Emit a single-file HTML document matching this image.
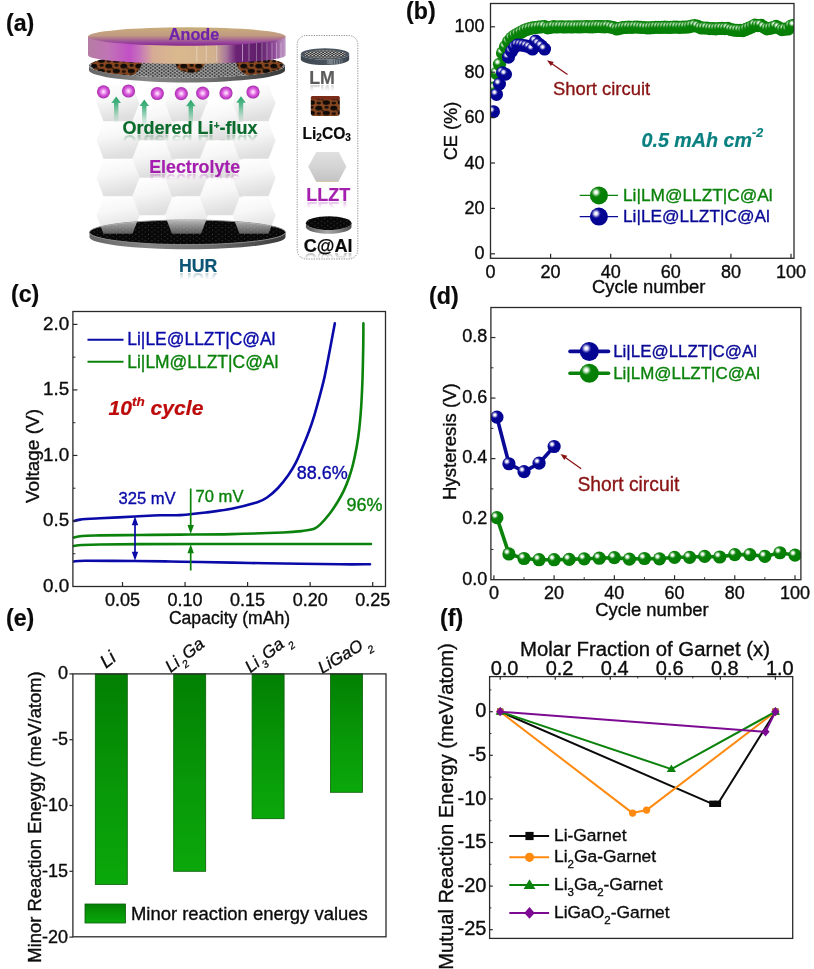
<!DOCTYPE html>
<html lang="en"><head><meta charset="utf-8"><title>Figure</title>
<style>
html,body{margin:0;padding:0;background:#fff;}
body{width:814px;height:969px;overflow:hidden;font-family:'Liberation Sans', sans-serif;}
svg{display:block;font-family:'Liberation Sans', sans-serif;will-change:transform;}
svg text{white-space:pre;}
</style></head><body>
<svg width="814" height="969" viewBox="0 0 814 969">
<rect width="814" height="969" fill="#ffffff"/>
<defs>
<radialGradient id="gball" cx="0.34" cy="0.33" r="0.9" fx="0.34" fy="0.33">
  <stop offset="0" stop-color="#ffffff"/><stop offset="0.06" stop-color="#ffffff"/><stop offset="0.15" stop-color="#a8d8a8"/>
  <stop offset="0.23" stop-color="#3a9a3a"/><stop offset="0.30" stop-color="#078207"/><stop offset="1" stop-color="#027a02"/>
</radialGradient>
<radialGradient id="bball" cx="0.34" cy="0.33" r="0.9" fx="0.34" fy="0.33">
  <stop offset="0" stop-color="#ffffff"/><stop offset="0.06" stop-color="#ffffff"/><stop offset="0.15" stop-color="#a6a6dc"/>
  <stop offset="0.23" stop-color="#3838ac"/><stop offset="0.30" stop-color="#060696"/><stop offset="1" stop-color="#02028e"/>
</radialGradient>

<linearGradient id="hexg" x1="0" y1="0" x2="0.25" y2="1"><stop offset="0" stop-color="#ffffff"/><stop offset="0.45" stop-color="#f6f6f6"/><stop offset="1" stop-color="#dcdcdc"/></linearGradient>
<linearGradient id="anTop" x1="0" y1="0" x2="0" y2="1"><stop offset="0" stop-color="#c9ad7a"/><stop offset="0.45" stop-color="#c09a82"/><stop offset="0.8" stop-color="#9a4a9c"/><stop offset="1" stop-color="#86268f"/></linearGradient>
<linearGradient id="anSide" x1="0" y1="0" x2="1" y2="0">
 <stop offset="0" stop-color="#b57ca4"/><stop offset="0.10" stop-color="#c074b4"/><stop offset="0.21" stop-color="#c250c6"/><stop offset="0.26" stop-color="#c672bc"/>
 <stop offset="0.33" stop-color="#d6ac94"/><stop offset="0.45" stop-color="#dab98e"/><stop offset="0.64" stop-color="#d2b28e"/><stop offset="0.70" stop-color="#a8769c"/>
 <stop offset="0.75" stop-color="#6c2276"/><stop offset="0.87" stop-color="#60206a"/><stop offset="0.94" stop-color="#8c4696"/><stop offset="1" stop-color="#c29cc6"/></linearGradient>
<linearGradient id="rimG" x1="0" y1="0" x2="1" y2="0"><stop offset="0" stop-color="#666666"/><stop offset="0.3" stop-color="#868686"/><stop offset="0.6" stop-color="#707070"/><stop offset="1" stop-color="#3a3a3a"/></linearGradient>
<radialGradient id="liion" cx="0.5" cy="0.5" r="0.5" fx="0.5" fy="0.5"><stop offset="0" stop-color="#fff4ff"/><stop offset="0.22" stop-color="#f6b6f4"/><stop offset="0.6" stop-color="#d552d8"/><stop offset="0.9" stop-color="#b436bb"/><stop offset="1" stop-color="#9c3aa2"/></radialGradient>
<linearGradient id="garrow" x1="0" y1="0" x2="0" y2="1"><stop offset="0" stop-color="#27a368"/><stop offset="0.28" stop-color="#3aad78" stop-opacity="0.9"/><stop offset="0.6" stop-color="#5cbb8e" stop-opacity="0.6"/><stop offset="1" stop-color="#8fd0b0" stop-opacity="0.08"/></linearGradient>
<linearGradient id="fadeG" x1="0" y1="0" x2="0" y2="1"><stop offset="0" stop-color="#fff" stop-opacity="0"/><stop offset="0.55" stop-color="#fff" stop-opacity="0"/><stop offset="1" stop-color="#fff" stop-opacity="1"/></linearGradient>
<mask id="fadeMask" maskUnits="userSpaceOnUse" x="0" y="0" width="420" height="300"><rect x="0" y="0" width="420" height="300" fill="#fff"/></mask>
<pattern id="mesh" width="4.4" height="3.2" patternUnits="userSpaceOnUse"><rect width="4.4" height="3.2" fill="#9a9a9a"/><ellipse cx="1.1" cy="0.8" rx="1.35" ry="0.95" fill="#121212" stroke="#e8e8e8" stroke-width="0.35"/><ellipse cx="3.3" cy="2.4" rx="1.35" ry="0.95" fill="#121212" stroke="#e8e8e8" stroke-width="0.35"/></pattern>
<pattern id="cdots" width="6.4" height="4.4" patternUnits="userSpaceOnUse"><rect width="6.4" height="4.4" fill="#080808"/><circle cx="1.4" cy="1.1" r="0.42" fill="#8c8c8c"/><circle cx="4.6" cy="3.3" r="0.42" fill="#8c8c8c"/></pattern>
<pattern id="leo" width="15" height="10.5" patternUnits="userSpaceOnUse"><rect width="15" height="10.5" fill="#87461f"/><ellipse cx="3.8" cy="3" rx="3.5" ry="2.4" fill="#120c08"/><ellipse cx="11.3" cy="8" rx="3.6" ry="2.3" fill="#120c08"/><ellipse cx="11.6" cy="2.2" rx="2.3" ry="1.5" fill="#1c120c"/><ellipse cx="3.8" cy="8.6" rx="2.4" ry="1.4" fill="#1c120c"/><ellipse cx="7.6" cy="5.4" rx="1.3" ry="0.9" fill="#2a1a10"/></pattern>
<linearGradient id="hexOv" gradientUnits="userSpaceOnUse" x1="0" y1="219" x2="0" y2="234"><stop offset="0" stop-color="#e2e2e2" stop-opacity="0.85"/><stop offset="1" stop-color="#bdbdbd" stop-opacity="0.45"/></linearGradient><linearGradient id="rf1g" gradientUnits="userSpaceOnUse" x1="0" y1="134.8" x2="0" y2="141.5"><stop offset="0" stop-color="#fff" stop-opacity="0.3"/><stop offset="1" stop-color="#fff" stop-opacity="0"/></linearGradient><mask id="rf1" maskUnits="userSpaceOnUse" x="0" y="134.3" width="420" height="18.0"><rect x="0" y="134.3" width="420" height="18.0" fill="url(#rf1g)"/></mask><linearGradient id="rf2g" gradientUnits="userSpaceOnUse" x1="0" y1="173.5" x2="0" y2="180.1"><stop offset="0" stop-color="#fff" stop-opacity="0.3"/><stop offset="1" stop-color="#fff" stop-opacity="0"/></linearGradient><mask id="rf2" maskUnits="userSpaceOnUse" x="0" y="173.0" width="420" height="17.8"><rect x="0" y="173.0" width="420" height="17.8" fill="url(#rf2g)"/></mask><linearGradient id="rf3g" gradientUnits="userSpaceOnUse" x1="0" y1="272.6" x2="0" y2="279.2"><stop offset="0" stop-color="#fff" stop-opacity="0.3"/><stop offset="1" stop-color="#fff" stop-opacity="0"/></linearGradient><mask id="rf3" maskUnits="userSpaceOnUse" x="0" y="272.1" width="420" height="17.7"><rect x="0" y="272.1" width="420" height="17.7" fill="url(#rf3g)"/></mask><linearGradient id="lmRim" x1="0" y1="0" x2="1" y2="0"><stop offset="0" stop-color="#3c4650"/><stop offset="0.5" stop-color="#48525c"/><stop offset="0.62" stop-color="#59636c"/><stop offset="1" stop-color="#39424c"/></linearGradient><pattern id="mesh2" width="3.6" height="2.4" patternUnits="userSpaceOnUse"><rect width="3.6" height="2.4" fill="#e4e4e4"/><ellipse cx="0.9" cy="0.6" rx="1.1" ry="0.75" fill="#1a1a1a"/><ellipse cx="2.7" cy="1.8" rx="1.1" ry="0.75" fill="#1a1a1a"/></pattern><linearGradient id="rf4g" gradientUnits="userSpaceOnUse" x1="0" y1="84.7" x2="0" y2="91.3"><stop offset="0" stop-color="#fff" stop-opacity="0.3"/><stop offset="1" stop-color="#fff" stop-opacity="0"/></linearGradient><mask id="rf4" maskUnits="userSpaceOnUse" x="0" y="84.2" width="420" height="17.8"><rect x="0" y="84.2" width="420" height="17.8" fill="url(#rf4g)"/></mask><linearGradient id="hexL" x1="0" y1="0" x2="0" y2="1"><stop offset="0" stop-color="#e0e0e0"/><stop offset="0.5" stop-color="#d4d4d4"/><stop offset="0.95" stop-color="#c4c4c4"/><stop offset="1" stop-color="#dccb9c"/></linearGradient><linearGradient id="rf5g" gradientUnits="userSpaceOnUse" x1="0" y1="201.7" x2="0" y2="208.4"><stop offset="0" stop-color="#fff" stop-opacity="0.3"/><stop offset="1" stop-color="#fff" stop-opacity="0"/></linearGradient><mask id="rf5" maskUnits="userSpaceOnUse" x="0" y="201.2" width="420" height="18.0"><rect x="0" y="201.2" width="420" height="18.0" fill="url(#rf5g)"/></mask><linearGradient id="caRim" x1="0" y1="0" x2="1" y2="0"><stop offset="0" stop-color="#555"/><stop offset="0.45" stop-color="#a8a8a8"/><stop offset="0.7" stop-color="#8a8a8a"/><stop offset="1" stop-color="#4a4a4a"/></linearGradient><linearGradient id="rf6g" gradientUnits="userSpaceOnUse" x1="0" y1="252.5" x2="0" y2="259.2"><stop offset="0" stop-color="#fff" stop-opacity="0.3"/><stop offset="1" stop-color="#fff" stop-opacity="0"/></linearGradient><mask id="rf6" maskUnits="userSpaceOnUse" x="0" y="252.0" width="420" height="18.1"><rect x="0" y="252.0" width="420" height="18.1" fill="url(#rf6g)"/></mask><linearGradient id="gbar" x1="0" y1="0" x2="0" y2="1"><stop offset="0" stop-color="#028002"/><stop offset="0.55" stop-color="#089808"/><stop offset="1" stop-color="#0aa80a"/></linearGradient></defs>
<polygon points="96.5,103.0 103.5,84.8 132.5,84.8 139.5,103.0 132.5,121.2 103.5,121.2" fill="url(#hexg)" opacity="0.93"/>
<polygon points="96.5,140.5 103.5,122.3 132.5,122.3 139.5,140.5 132.5,158.7 103.5,158.7" fill="url(#hexg)" opacity="0.93"/>
<polygon points="96.5,178.0 103.5,159.8 132.5,159.8 139.5,178.0 132.5,196.2 103.5,196.2" fill="url(#hexg)" opacity="0.93"/>
<polygon points="96.5,215.5 103.5,197.3 132.5,197.3 139.5,215.5 132.5,233.7 103.5,233.7" fill="url(#hexg)" opacity="0.93"/>
<polygon points="132.5,122.0 139.5,103.8 168.5,103.8 175.5,122.0 168.5,140.2 139.5,140.2" fill="url(#hexg)" opacity="0.93"/>
<polygon points="132.5,159.5 139.5,141.3 168.5,141.3 175.5,159.5 168.5,177.7 139.5,177.7" fill="url(#hexg)" opacity="0.93"/>
<polygon points="132.5,197.0 139.5,178.8 168.5,178.8 175.5,197.0 168.5,215.2 139.5,215.2" fill="url(#hexg)" opacity="0.93"/>
<polygon points="165.0,103.0 172.0,84.8 201.0,84.8 208.0,103.0 201.0,121.2 172.0,121.2" fill="url(#hexg)" opacity="0.93"/>
<polygon points="165.0,140.5 172.0,122.3 201.0,122.3 208.0,140.5 201.0,158.7 172.0,158.7" fill="url(#hexg)" opacity="0.93"/>
<polygon points="165.0,178.0 172.0,159.8 201.0,159.8 208.0,178.0 201.0,196.2 172.0,196.2" fill="url(#hexg)" opacity="0.93"/>
<polygon points="165.0,215.5 172.0,197.3 201.0,197.3 208.0,215.5 201.0,233.7 172.0,233.7" fill="url(#hexg)" opacity="0.93"/>
<polygon points="199.5,122.0 206.5,103.8 235.5,103.8 242.5,122.0 235.5,140.2 206.5,140.2" fill="url(#hexg)" opacity="0.93"/>
<polygon points="199.5,159.5 206.5,141.3 235.5,141.3 242.5,159.5 235.5,177.7 206.5,177.7" fill="url(#hexg)" opacity="0.93"/>
<polygon points="199.5,197.0 206.5,178.8 235.5,178.8 242.5,197.0 235.5,215.2 206.5,215.2" fill="url(#hexg)" opacity="0.93"/>
<polygon points="232.5,103.0 239.5,84.8 268.5,84.8 275.5,103.0 268.5,121.2 239.5,121.2" fill="url(#hexg)" opacity="0.93"/>
<polygon points="232.5,140.5 239.5,122.3 268.5,122.3 275.5,140.5 268.5,158.7 239.5,158.7" fill="url(#hexg)" opacity="0.93"/>
<polygon points="232.5,178.0 239.5,159.8 268.5,159.8 275.5,178.0 268.5,196.2 239.5,196.2" fill="url(#hexg)" opacity="0.93"/>
<polygon points="232.5,215.5 239.5,197.3 268.5,197.3 275.5,215.5 268.5,233.7 239.5,233.7" fill="url(#hexg)" opacity="0.93"/>
<path d="M89.5,232.3 A98,12.3 0 0 0 285.5,232.3 L285.5,237 A98,12.3 0 0 1 89.5,237 Z" fill="url(#rimG)"/>
<ellipse cx="187.5" cy="232.3" rx="98" ry="12.3" fill="url(#cdots)"/>
<ellipse cx="187.5" cy="232.3" rx="98" ry="12.3" fill="none" stroke="#8c8c8c" stroke-width="0.9"/>
<clipPath id="clipDisc"><ellipse cx="187.5" cy="232.3" rx="98" ry="12.3"/></clipPath>
<g clip-path="url(#clipDisc)">
<polygon points="96.5,215.5 103.5,197.3 132.5,197.3 139.5,215.5 132.5,233.7 103.5,233.7" fill="url(#hexOv)" opacity="1"/>
<polygon points="165.0,215.5 172.0,197.3 201.0,197.3 208.0,215.5 201.0,233.7 172.0,233.7" fill="url(#hexOv)" opacity="1"/>
<polygon points="232.5,215.5 239.5,197.3 268.5,197.3 275.5,215.5 268.5,233.7 239.5,233.7" fill="url(#hexOv)" opacity="1"/>
</g>
<path d="M89,65.6 A98,12.2 0 0 0 285,65.6 L285,70.2 A98,12.2 0 0 1 89,70.2 Z" fill="url(#rimG)"/>
<ellipse cx="187" cy="65.6" rx="98" ry="12.2" fill="url(#mesh)"/>
<clipPath id="clipMesh"><ellipse cx="187" cy="65.6" rx="98" ry="12.2"/></clipPath>
<g clip-path="url(#clipMesh)">
<path d="M91,66 C93,58 100,54 112,53 L141,53 C144,60 142,69.5 134,74.5 C126,78.5 110,77.5 100,75.5 Z" fill="url(#leo)"/>
<path d="M176,53 L206,53 C208,60 204,68.5 197,72 C189,74 180,71.5 177,67.5 C174,62 174,57 176,53 Z" fill="url(#leo)"/>
<path d="M238,53 L276,54 C282,58 284,62 282,67.5 C274,73.5 262,77 250,76 C240,73.5 236,66 236,60 Z" fill="url(#leo)"/>
</g>
<path d="M88,36.5 L88,55.2 A98.8,8.6 0 0 0 285.6,55.2 L285.6,36.5 Z" fill="url(#anSide)"/>
<line x1="196.80" y1="42.50" x2="196.80" y2="61.50" stroke="#ffffff" stroke-width="0.7" opacity="0.55"/>
<line x1="206.30" y1="42.50" x2="206.30" y2="61.50" stroke="#ffffff" stroke-width="0.7" opacity="0.5"/>
<line x1="216.70" y1="42.50" x2="216.70" y2="61.50" stroke="#ffffff" stroke-width="0.7" opacity="0.5"/>
<line x1="242.50" y1="42.50" x2="242.50" y2="61.50" stroke="#ffffff" stroke-width="0.7" opacity="0.7"/>
<line x1="249.00" y1="42.50" x2="249.00" y2="61.50" stroke="#ffffff" stroke-width="0.7" opacity="0.5"/>
<line x1="256.50" y1="42.50" x2="256.50" y2="61.50" stroke="#ffffff" stroke-width="0.7" opacity="0.45"/>
<line x1="262.00" y1="42.50" x2="262.00" y2="61.50" stroke="#ffffff" stroke-width="0.7" opacity="0.45"/>
<line x1="267.00" y1="42.50" x2="267.00" y2="61.50" stroke="#ffffff" stroke-width="0.7" opacity="0.45"/>
<line x1="272.00" y1="42.50" x2="272.00" y2="61.50" stroke="#ffffff" stroke-width="0.7" opacity="0.5"/>
<line x1="276.50" y1="42.50" x2="276.50" y2="61.50" stroke="#ffffff" stroke-width="0.7" opacity="0.5"/>
<line x1="281.00" y1="42.50" x2="281.00" y2="61.50" stroke="#ffffff" stroke-width="0.7" opacity="0.55"/>
<ellipse cx="186.8" cy="36.5" rx="98.8" ry="9.3" fill="url(#anTop)"/>
<text x="194.0" y="39.8" font-size="16.2" fill="#6f22ac" stroke="#6f22ac" stroke-width="0.2" text-anchor="middle" font-weight="bold" font-style="normal" >Anode</text>
<circle cx="103.5" cy="91.8" r="6.6" fill="url(#liion)"/>
<circle cx="128.5" cy="91" r="6.6" fill="url(#liion)"/>
<circle cx="157.3" cy="93.5" r="6.6" fill="url(#liion)"/>
<circle cx="181.3" cy="93.6" r="6.6" fill="url(#liion)"/>
<circle cx="202.7" cy="93.2" r="6.6" fill="url(#liion)"/>
<circle cx="226" cy="93" r="6.6" fill="url(#liion)"/>
<circle cx="253" cy="92" r="6.6" fill="url(#liion)"/>
<path d="M114.0,122.5 L114.0,103.0 L111.4,103.0 L116.2,96.5 L121.0,103.0 L118.4,103.0 L118.4,122.5 Z" fill="url(#garrow)"/>
<path d="M142.10000000000002,125.6 L142.10000000000002,106.1 L139.5,106.1 L144.3,99.6 L149.10000000000002,106.1 L146.5,106.1 L146.5,125.6 Z" fill="url(#garrow)"/>
<path d="M188.60000000000002,125.8 L188.60000000000002,106.3 L186.0,106.3 L190.8,99.8 L195.60000000000002,106.3 L193.0,106.3 L193.0,125.8 Z" fill="url(#garrow)"/>
<path d="M238.8,122.2 L238.8,102.7 L236.2,102.7 L241,96.2 L245.8,102.7 L243.2,102.7 L243.2,122.2 Z" fill="url(#garrow)"/>
<text x="122.6" y="134.3" font-size="18.0" fill="#0a6a2c" stroke="#0a6a2c" stroke-width="0.2" text-anchor="start" font-weight="bold" font-style="normal" id="rf1t">Ordered Li<tspan font-size="10" dy="-5">+</tspan><tspan dy="5">-flux</tspan></text>
<g mask="url(#rf1)"><use href="#rf1t" transform="translate(0,269.6) scale(1,-1)"/></g>
<text x="149.2" y="173.0" font-size="17.8" fill="#a51fae" stroke="#a51fae" stroke-width="0.2" text-anchor="start" font-weight="bold" font-style="normal" id="rf2t">Electrolyte</text>
<g mask="url(#rf2)"><use href="#rf2t" transform="translate(0,347.0) scale(1,-1)"/></g>
<text x="179.0" y="272.1" font-size="17.7" fill="#0d5574" stroke="#0d5574" stroke-width="0.2" text-anchor="start" font-weight="bold" font-style="normal" id="rf3t">HUR</text>
<g mask="url(#rf3)"><use href="#rf3t" transform="translate(0,545.2) scale(1,-1)"/></g>
<rect x="297.2" y="35.5" width="60.6" height="223.5" rx="9" ry="9" fill="#fff" stroke="#666" stroke-width="0.7" stroke-dasharray="1.3,1.2"/>
<path d="M300.8,54 A24.2,5.7 0 0 0 349.2,54 L349.2,59.4 A24.2,5.7 0 0 1 300.8,59.4 Z" fill="url(#lmRim)"/>
<line x1="328.00" y1="59.50" x2="328.00" y2="64.20" stroke="#ffffff" stroke-width="0.6" opacity="0.55"/>
<line x1="330.00" y1="59.50" x2="330.00" y2="64.20" stroke="#ffffff" stroke-width="0.6" opacity="0.7"/>
<line x1="332.00" y1="59.50" x2="332.00" y2="64.20" stroke="#ffffff" stroke-width="0.6" opacity="0.6"/>
<line x1="334.50" y1="59.50" x2="334.50" y2="64.20" stroke="#ffffff" stroke-width="0.6" opacity="0.5"/>
<line x1="337.00" y1="59.50" x2="337.00" y2="64.20" stroke="#ffffff" stroke-width="0.6" opacity="0.55"/>
<line x1="339.50" y1="59.50" x2="339.50" y2="64.20" stroke="#ffffff" stroke-width="0.6" opacity="0.45"/>
<line x1="342.00" y1="59.50" x2="342.00" y2="64.20" stroke="#ffffff" stroke-width="0.6" opacity="0.4"/>
<ellipse cx="325" cy="54" rx="24.2" ry="5.7" fill="#4a545e"/>
<ellipse cx="325" cy="54.2" rx="20.8" ry="4.3" fill="url(#mesh2)"/>
<text x="309.2" y="84.2" font-size="17.8" fill="#5c5c5c" stroke="#5c5c5c" stroke-width="0.2" text-anchor="start" font-weight="bold" font-style="normal" id="rf4t">LM</text>
<g mask="url(#rf4)"><use href="#rf4t" transform="translate(0,169.4) scale(1,-1)"/></g>
<rect x="310.8" y="96" width="29" height="20" rx="3" ry="3" fill="url(#leo)"/>
<rect x="310.8" y="96" width="29" height="3.6" rx="1.8" fill="#7a2c18"/>
<text x="302.5" y="138.5" font-size="15.6" fill="#0a0a0a" stroke="#0a0a0a" stroke-width="0.2" text-anchor="start" font-weight="bold" font-style="normal" >Li<tspan font-size="10" dy="2.5">2</tspan><tspan dy="-2.5">CO</tspan><tspan font-size="10" dy="2.5">3</tspan></text>
<polygon points="308.2,166.8 316.3,152 338.8,152 346.4,166.8 338.2,182 316.3,182" fill="url(#hexL)"/>
<text x="306.2" y="201.2" font-size="18.0" fill="#a51fae" stroke="#a51fae" stroke-width="0.2" text-anchor="start" font-weight="bold" font-style="normal" id="rf5t">LLZT</text>
<g mask="url(#rf5)"><use href="#rf5t" transform="translate(0,403.4) scale(1,-1)"/></g>
<path d="M305.9,223.2 A22.8,6.9 0 0 0 351.5,223.2 L351.5,226.9 A22.8,6.9 0 0 1 305.9,226.9 Z" fill="url(#caRim)"/>
<ellipse cx="328.7" cy="223.2" rx="22.8" ry="6.9" fill="url(#cdots)"/>
<text x="303.8" y="252.0" font-size="18.1" fill="#0a0a0a" stroke="#0a0a0a" stroke-width="0.2" text-anchor="start" font-weight="bold" font-style="normal" id="rf6t">C@Al</text>
<g mask="url(#rf6)"><use href="#rf6t" transform="translate(0,505.0) scale(1,-1)"/></g>
<clipPath id="clipb"><rect x="490.5" y="3.5" width="303.5" height="254.8"/></clipPath>
<g clip-path="url(#clipb)">
<polyline points="493.5,88.1 496.5,73.3 499.5,64.3 502.5,52.9 505.5,46.8 508.5,41.8 511.5,38.2 514.5,35.9 517.5,34.1 520.5,32.5 523.6,30.9 526.6,29.5 529.6,28.6 532.6,27.9 535.6,27.5 538.6,27.0 541.6,26.8 544.6,26.6 547.6,27.8 550.6,27.4 553.6,26.7 556.6,27.0 559.6,26.8 562.6,26.8 565.6,27.0 568.6,26.7 571.6,27.0 574.6,26.7 577.6,26.9 580.6,26.9 583.7,26.7 586.7,26.5 589.7,26.9 592.7,26.9 595.7,26.7 598.7,26.5 601.7,26.7 604.7,26.8 607.7,26.5 610.7,27.0 613.7,27.6 616.7,29.0 619.7,28.4 622.7,27.7 625.7,27.5 628.7,27.1 631.7,27.3 634.7,27.0 637.7,27.1 640.8,27.4 643.8,27.5 646.8,27.9 649.8,27.8 652.8,27.6 655.8,27.3 658.8,27.3 661.8,27.4 664.8,27.2 667.8,27.3 670.8,27.4 673.8,27.1 676.8,27.1 679.8,27.3 682.8,27.1 685.8,27.1 688.8,26.8 691.8,26.1 694.8,25.6 697.8,26.3 700.9,27.9 703.9,28.0 706.9,28.0 709.9,28.6 712.9,28.6 715.9,28.9 718.9,28.5 721.9,28.5 724.9,28.6 727.9,28.4 730.9,29.5 733.9,30.1 736.9,30.3 739.9,30.5 742.9,30.7 745.9,29.3 748.9,28.1 751.9,26.8 754.9,25.1 757.9,25.6 761.0,25.3 764.0,27.2 767.0,28.8 770.0,28.4 773.0,27.6 776.0,26.4 779.0,27.7 782.0,29.6 785.0,29.1 788.0,29.0 791.0,26.1 794.0,25.5" fill="none" stroke="#0b820b" stroke-width="1.5"/>
<circle cx="493.50" cy="88.09" r="6.6" fill="url(#gball)"/>
<circle cx="496.51" cy="73.34" r="6.6" fill="url(#gball)"/>
<circle cx="499.51" cy="64.26" r="6.6" fill="url(#gball)"/>
<circle cx="502.52" cy="52.91" r="6.6" fill="url(#gball)"/>
<circle cx="505.52" cy="46.78" r="6.6" fill="url(#gball)"/>
<circle cx="508.53" cy="41.78" r="6.6" fill="url(#gball)"/>
<circle cx="511.54" cy="38.15" r="6.6" fill="url(#gball)"/>
<circle cx="514.54" cy="35.88" r="6.6" fill="url(#gball)"/>
<circle cx="517.54" cy="34.06" r="6.6" fill="url(#gball)"/>
<circle cx="520.55" cy="32.48" r="6.6" fill="url(#gball)"/>
<circle cx="523.55" cy="30.89" r="6.6" fill="url(#gball)"/>
<circle cx="526.56" cy="29.52" r="6.6" fill="url(#gball)"/>
<circle cx="529.57" cy="28.62" r="6.6" fill="url(#gball)"/>
<circle cx="532.57" cy="27.94" r="6.6" fill="url(#gball)"/>
<circle cx="535.58" cy="27.48" r="6.6" fill="url(#gball)"/>
<circle cx="538.58" cy="27.03" r="6.6" fill="url(#gball)"/>
<circle cx="541.59" cy="26.80" r="6.6" fill="url(#gball)"/>
<circle cx="544.59" cy="26.57" r="6.6" fill="url(#gball)"/>
<circle cx="547.60" cy="27.80" r="6.6" fill="url(#gball)"/>
<circle cx="550.60" cy="27.44" r="6.6" fill="url(#gball)"/>
<circle cx="553.61" cy="26.72" r="6.6" fill="url(#gball)"/>
<circle cx="556.61" cy="27.02" r="6.6" fill="url(#gball)"/>
<circle cx="559.62" cy="26.76" r="6.6" fill="url(#gball)"/>
<circle cx="562.62" cy="26.84" r="6.6" fill="url(#gball)"/>
<circle cx="565.62" cy="26.99" r="6.6" fill="url(#gball)"/>
<circle cx="568.63" cy="26.73" r="6.6" fill="url(#gball)"/>
<circle cx="571.63" cy="26.98" r="6.6" fill="url(#gball)"/>
<circle cx="574.64" cy="26.75" r="6.6" fill="url(#gball)"/>
<circle cx="577.64" cy="26.93" r="6.6" fill="url(#gball)"/>
<circle cx="580.65" cy="26.91" r="6.6" fill="url(#gball)"/>
<circle cx="583.65" cy="26.74" r="6.6" fill="url(#gball)"/>
<circle cx="586.66" cy="26.53" r="6.6" fill="url(#gball)"/>
<circle cx="589.66" cy="26.93" r="6.6" fill="url(#gball)"/>
<circle cx="592.67" cy="26.88" r="6.6" fill="url(#gball)"/>
<circle cx="595.67" cy="26.67" r="6.6" fill="url(#gball)"/>
<circle cx="598.68" cy="26.51" r="6.6" fill="url(#gball)"/>
<circle cx="601.68" cy="26.72" r="6.6" fill="url(#gball)"/>
<circle cx="604.69" cy="26.83" r="6.6" fill="url(#gball)"/>
<circle cx="607.69" cy="26.53" r="6.6" fill="url(#gball)"/>
<circle cx="610.70" cy="27.05" r="6.6" fill="url(#gball)"/>
<circle cx="613.71" cy="27.63" r="6.6" fill="url(#gball)"/>
<circle cx="616.71" cy="28.96" r="6.6" fill="url(#gball)"/>
<circle cx="619.72" cy="28.36" r="6.6" fill="url(#gball)"/>
<circle cx="622.72" cy="27.69" r="6.6" fill="url(#gball)"/>
<circle cx="625.73" cy="27.47" r="6.6" fill="url(#gball)"/>
<circle cx="628.73" cy="27.08" r="6.6" fill="url(#gball)"/>
<circle cx="631.74" cy="27.31" r="6.6" fill="url(#gball)"/>
<circle cx="634.74" cy="26.98" r="6.6" fill="url(#gball)"/>
<circle cx="637.75" cy="27.12" r="6.6" fill="url(#gball)"/>
<circle cx="640.75" cy="27.44" r="6.6" fill="url(#gball)"/>
<circle cx="643.75" cy="27.51" r="6.6" fill="url(#gball)"/>
<circle cx="646.76" cy="27.95" r="6.6" fill="url(#gball)"/>
<circle cx="649.76" cy="27.83" r="6.6" fill="url(#gball)"/>
<circle cx="652.77" cy="27.64" r="6.6" fill="url(#gball)"/>
<circle cx="655.77" cy="27.27" r="6.6" fill="url(#gball)"/>
<circle cx="658.78" cy="27.29" r="6.6" fill="url(#gball)"/>
<circle cx="661.78" cy="27.36" r="6.6" fill="url(#gball)"/>
<circle cx="664.79" cy="27.21" r="6.6" fill="url(#gball)"/>
<circle cx="667.79" cy="27.28" r="6.6" fill="url(#gball)"/>
<circle cx="670.80" cy="27.36" r="6.6" fill="url(#gball)"/>
<circle cx="673.81" cy="27.09" r="6.6" fill="url(#gball)"/>
<circle cx="676.81" cy="27.15" r="6.6" fill="url(#gball)"/>
<circle cx="679.82" cy="27.34" r="6.6" fill="url(#gball)"/>
<circle cx="682.82" cy="27.10" r="6.6" fill="url(#gball)"/>
<circle cx="685.83" cy="27.07" r="6.6" fill="url(#gball)"/>
<circle cx="688.83" cy="26.82" r="6.6" fill="url(#gball)"/>
<circle cx="691.84" cy="26.11" r="6.6" fill="url(#gball)"/>
<circle cx="694.84" cy="25.55" r="6.6" fill="url(#gball)"/>
<circle cx="697.85" cy="26.31" r="6.6" fill="url(#gball)"/>
<circle cx="700.85" cy="27.92" r="6.6" fill="url(#gball)"/>
<circle cx="703.86" cy="27.98" r="6.6" fill="url(#gball)"/>
<circle cx="706.86" cy="28.02" r="6.6" fill="url(#gball)"/>
<circle cx="709.87" cy="28.58" r="6.6" fill="url(#gball)"/>
<circle cx="712.87" cy="28.62" r="6.6" fill="url(#gball)"/>
<circle cx="715.88" cy="28.87" r="6.6" fill="url(#gball)"/>
<circle cx="718.88" cy="28.52" r="6.6" fill="url(#gball)"/>
<circle cx="721.88" cy="28.47" r="6.6" fill="url(#gball)"/>
<circle cx="724.89" cy="28.58" r="6.6" fill="url(#gball)"/>
<circle cx="727.89" cy="28.41" r="6.6" fill="url(#gball)"/>
<circle cx="730.90" cy="29.51" r="6.6" fill="url(#gball)"/>
<circle cx="733.90" cy="30.10" r="6.6" fill="url(#gball)"/>
<circle cx="736.91" cy="30.30" r="6.6" fill="url(#gball)"/>
<circle cx="739.91" cy="30.46" r="6.6" fill="url(#gball)"/>
<circle cx="742.92" cy="30.68" r="6.6" fill="url(#gball)"/>
<circle cx="745.92" cy="29.34" r="6.6" fill="url(#gball)"/>
<circle cx="748.93" cy="28.15" r="6.6" fill="url(#gball)"/>
<circle cx="751.93" cy="26.81" r="6.6" fill="url(#gball)"/>
<circle cx="754.94" cy="25.12" r="6.6" fill="url(#gball)"/>
<circle cx="757.94" cy="25.56" r="6.6" fill="url(#gball)"/>
<circle cx="760.95" cy="25.33" r="6.6" fill="url(#gball)"/>
<circle cx="763.95" cy="27.17" r="6.6" fill="url(#gball)"/>
<circle cx="766.96" cy="28.80" r="6.6" fill="url(#gball)"/>
<circle cx="769.96" cy="28.44" r="6.6" fill="url(#gball)"/>
<circle cx="772.97" cy="27.60" r="6.6" fill="url(#gball)"/>
<circle cx="775.97" cy="26.41" r="6.6" fill="url(#gball)"/>
<circle cx="778.98" cy="27.73" r="6.6" fill="url(#gball)"/>
<circle cx="781.99" cy="29.56" r="6.6" fill="url(#gball)"/>
<circle cx="784.99" cy="29.09" r="6.6" fill="url(#gball)"/>
<circle cx="788.00" cy="29.02" r="6.6" fill="url(#gball)"/>
<circle cx="791.00" cy="26.10" r="6.6" fill="url(#gball)"/>
<circle cx="794.00" cy="25.45" r="6.6" fill="url(#gball)"/>
<circle cx="493.50" cy="111.70" r="6.5" fill="url(#bball)"/>
<circle cx="496.51" cy="94.45" r="6.5" fill="url(#bball)"/>
<circle cx="499.51" cy="84.00" r="6.5" fill="url(#bball)"/>
<circle cx="502.52" cy="72.65" r="6.5" fill="url(#bball)"/>
<circle cx="505.52" cy="74.24" r="6.5" fill="url(#bball)"/>
<circle cx="508.53" cy="57.22" r="6.5" fill="url(#bball)"/>
<circle cx="511.54" cy="51.32" r="6.5" fill="url(#bball)"/>
<circle cx="514.54" cy="47.23" r="6.5" fill="url(#bball)"/>
<circle cx="517.54" cy="44.96" r="6.5" fill="url(#bball)"/>
<circle cx="520.55" cy="44.96" r="6.5" fill="url(#bball)"/>
<circle cx="523.55" cy="45.41" r="6.5" fill="url(#bball)"/>
<circle cx="526.56" cy="46.09" r="6.5" fill="url(#bball)"/>
<circle cx="529.57" cy="47.23" r="6.5" fill="url(#bball)"/>
<circle cx="532.57" cy="49.05" r="6.5" fill="url(#bball)"/>
<circle cx="535.58" cy="41.10" r="6.5" fill="url(#bball)"/>
<circle cx="538.58" cy="43.83" r="6.5" fill="url(#bball)"/>
<circle cx="541.59" cy="46.09" r="6.5" fill="url(#bball)"/>
<circle cx="544.59" cy="49.05" r="6.5" fill="url(#bball)"/>
</g>
<rect x="490.50" y="3.50" width="303.50" height="254.80" fill="none" stroke="#2a2a2a" stroke-width="1.3"/>
<line x1="490.50" y1="253.80" x2="495.00" y2="253.80" stroke="#2a2a2a" stroke-width="1.2" />
<text x="484.5" y="259.3" font-size="18" fill="#0c0c0c" stroke="#0c0c0c" stroke-width="0.35" text-anchor="end" font-weight="normal" font-style="normal" >0</text>
<line x1="490.50" y1="208.40" x2="495.00" y2="208.40" stroke="#2a2a2a" stroke-width="1.2" />
<text x="484.5" y="213.9" font-size="18" fill="#0c0c0c" stroke="#0c0c0c" stroke-width="0.35" text-anchor="end" font-weight="normal" font-style="normal" >20</text>
<line x1="490.50" y1="163.00" x2="495.00" y2="163.00" stroke="#2a2a2a" stroke-width="1.2" />
<text x="484.5" y="168.5" font-size="18" fill="#0c0c0c" stroke="#0c0c0c" stroke-width="0.35" text-anchor="end" font-weight="normal" font-style="normal" >40</text>
<line x1="490.50" y1="117.60" x2="495.00" y2="117.60" stroke="#2a2a2a" stroke-width="1.2" />
<text x="484.5" y="123.1" font-size="18" fill="#0c0c0c" stroke="#0c0c0c" stroke-width="0.35" text-anchor="end" font-weight="normal" font-style="normal" >60</text>
<line x1="490.50" y1="72.20" x2="495.00" y2="72.20" stroke="#2a2a2a" stroke-width="1.2" />
<text x="484.5" y="77.7" font-size="18" fill="#0c0c0c" stroke="#0c0c0c" stroke-width="0.35" text-anchor="end" font-weight="normal" font-style="normal" >80</text>
<line x1="490.50" y1="26.80" x2="495.00" y2="26.80" stroke="#2a2a2a" stroke-width="1.2" />
<text x="484.5" y="32.3" font-size="18" fill="#0c0c0c" stroke="#0c0c0c" stroke-width="0.35" text-anchor="end" font-weight="normal" font-style="normal" >100</text>
<line x1="490.50" y1="258.30" x2="490.50" y2="253.80" stroke="#2a2a2a" stroke-width="1.2" />
<text x="490.5" y="277.5" font-size="18" fill="#0c0c0c" stroke="#0c0c0c" stroke-width="0.35" text-anchor="middle" font-weight="normal" font-style="normal" >0</text>
<line x1="550.60" y1="258.30" x2="550.60" y2="253.80" stroke="#2a2a2a" stroke-width="1.2" />
<text x="550.6" y="277.5" font-size="18" fill="#0c0c0c" stroke="#0c0c0c" stroke-width="0.35" text-anchor="middle" font-weight="normal" font-style="normal" >20</text>
<line x1="610.70" y1="258.30" x2="610.70" y2="253.80" stroke="#2a2a2a" stroke-width="1.2" />
<text x="610.7" y="277.5" font-size="18" fill="#0c0c0c" stroke="#0c0c0c" stroke-width="0.35" text-anchor="middle" font-weight="normal" font-style="normal" >40</text>
<line x1="670.80" y1="258.30" x2="670.80" y2="253.80" stroke="#2a2a2a" stroke-width="1.2" />
<text x="670.8" y="277.5" font-size="18" fill="#0c0c0c" stroke="#0c0c0c" stroke-width="0.35" text-anchor="middle" font-weight="normal" font-style="normal" >60</text>
<line x1="730.90" y1="258.30" x2="730.90" y2="253.80" stroke="#2a2a2a" stroke-width="1.2" />
<text x="730.9" y="277.5" font-size="18" fill="#0c0c0c" stroke="#0c0c0c" stroke-width="0.35" text-anchor="middle" font-weight="normal" font-style="normal" >80</text>
<line x1="791.00" y1="258.30" x2="791.00" y2="253.80" stroke="#2a2a2a" stroke-width="1.2" />
<text x="791.0" y="277.5" font-size="18" fill="#0c0c0c" stroke="#0c0c0c" stroke-width="0.35" text-anchor="middle" font-weight="normal" font-style="normal" >100</text>
<text transform="translate(456.7,131.0) rotate(-90)" font-size="18.2" fill="#0c0c0c" stroke="#0c0c0c" stroke-width="0.35" text-anchor="middle" font-weight="normal" font-style="normal">CE (%)</text>
<text x="648.7" y="292.5" font-size="18.4" fill="#0c0c0c" stroke="#0c0c0c" stroke-width="0.35" text-anchor="middle" font-weight="normal" font-style="normal" >Cycle number</text>
<text x="553.0" y="95.4" font-size="18.4" fill="#8a1414" stroke="#8a1414" stroke-width="0.35" text-anchor="start" font-weight="normal" font-style="normal" >Short circuit</text>
<line x1="567.50" y1="74.50" x2="551.52" y2="63.43" stroke="#8a1414" stroke-width="1.3" />
<polygon points="547.0,60.3 553.8,61.9 550.9,66.1" fill="#8a1414"/>
<text x="641.5" y="147.0" font-size="19.7" fill="#0a8080" stroke="#0a8080" stroke-width="0.2" text-anchor="start" font-weight="bold" font-style="italic" >0.5 mAh cm<tspan font-size="12.5" dy="-10">-2</tspan></text>
<line x1="579.70" y1="195.40" x2="618.00" y2="195.40" stroke="#0b820b" stroke-width="1.4" />
<circle cx="598.90" cy="195.40" r="9" fill="url(#gball)"/>
<text x="623.0" y="200.6" font-size="17.3" fill="#0b820b" stroke="#0b820b" stroke-width="0.35" text-anchor="start" font-weight="normal" font-style="normal" >Li|LM@LLZT|C@Al</text>
<line x1="579.70" y1="216.60" x2="618.00" y2="216.60" stroke="#0a0a96" stroke-width="1.4" />
<circle cx="598.90" cy="216.60" r="9" fill="url(#bball)"/>
<text x="623.0" y="222.3" font-size="17.3" fill="#0a0a96" stroke="#0a0a96" stroke-width="0.35" text-anchor="start" font-weight="normal" font-style="normal" >Li|LE@LLZT|C@Al</text>
<path d="M74.0,521.0 C75.0,520.8 75.7,520.1 80.0,519.6 C84.3,519.1 90.8,518.8 100.0,518.3 C109.2,517.8 125.0,517.0 135.0,516.5 C145.0,516.0 152.5,515.5 160.0,515.3 C167.5,515.1 172.4,515.6 180.0,515.1 C187.6,514.6 197.2,513.6 205.8,512.5 C214.4,511.4 223.0,510.4 231.6,508.7 C240.2,507.0 251.4,504.1 257.4,502.2 C263.4,500.2 264.3,499.4 267.7,497.0 C271.1,494.6 274.6,491.6 278.0,488.0 C281.4,484.4 285.4,479.4 288.4,475.1 C291.4,470.8 293.5,467.4 296.1,462.2 C298.7,457.0 301.7,449.3 303.8,444.2 C305.9,439.1 307.3,436.0 309.0,431.3 C310.7,426.6 312.5,421.4 314.2,415.8 C315.9,410.2 317.6,404.1 319.3,397.7 C321.0,391.2 322.8,384.8 324.5,377.1 C326.2,369.4 327.9,360.2 329.6,351.3 C331.3,342.4 333.9,328.0 334.8,323.4" fill="none" stroke="#0a0aa8" stroke-width="2.6" stroke-linecap="round" stroke-linejoin="round"/>
<path d="M74.0,561.5 C75.8,561.4 74.8,560.9 85.0,560.8 C95.2,560.7 120.8,560.9 135.0,561.0 C149.2,561.1 159.2,561.3 170.0,561.5 C180.8,561.7 186.7,561.8 200.0,562.0 C213.3,562.2 233.3,562.7 250.0,563.0 C266.7,563.3 285.0,563.5 300.0,563.7 C315.0,563.9 328.3,564.2 340.0,564.3 C351.7,564.4 365.0,564.3 370.0,564.3" fill="none" stroke="#0a0aa8" stroke-width="2.6" stroke-linecap="round" stroke-linejoin="round"/>
<path d="M74.0,537.5 C75.3,537.2 77.7,536.4 82.0,536.0 C86.3,535.6 90.3,535.6 100.0,535.4 C109.7,535.2 126.7,535.1 140.0,535.0 C153.3,534.9 164.7,534.8 180.0,534.6 C195.3,534.5 214.4,534.5 231.6,534.1 C248.8,533.8 271.2,533.0 283.2,532.5 C295.2,532.0 298.6,531.4 303.8,530.8 C309.0,530.2 311.4,529.9 314.2,528.8 C317.0,527.7 318.0,526.6 320.6,524.1 C323.2,521.6 326.8,517.4 329.6,513.8 C332.4,510.1 335.0,506.1 337.4,502.2 C339.8,498.3 341.9,494.7 343.8,490.6 C345.7,486.5 347.5,482.0 349.0,477.7 C350.5,473.4 351.6,470.0 352.9,464.8 C354.2,459.6 355.6,452.7 356.7,446.7 C357.8,440.7 358.6,435.1 359.3,428.7 C360.0,422.2 360.6,415.8 361.1,408.0 C361.6,400.2 362.0,392.1 362.4,382.2 C362.8,372.3 363.0,358.5 363.2,348.7 C363.4,338.9 363.4,327.6 363.4,323.4" fill="none" stroke="#0b820b" stroke-width="2.6" stroke-linecap="round" stroke-linejoin="round"/>
<path d="M74.0,546.0 C75.3,545.8 77.7,545.2 82.0,545.0 C86.3,544.8 90.3,544.6 100.0,544.5 C109.7,544.4 123.3,544.2 140.0,544.1 C156.7,544.0 173.3,544.0 200.0,544.0 C226.7,544.0 271.5,544.0 300.0,544.0 C328.5,544.0 359.2,544.0 371.0,544.0" fill="none" stroke="#0b820b" stroke-width="2.6" stroke-linecap="round" stroke-linejoin="round"/>
<rect x="72.90" y="311.50" width="312.60" height="275.00" fill="none" stroke="#2a2a2a" stroke-width="1.3"/>
<text x="69.2" y="591.8" font-size="18.8" fill="#0c0c0c" stroke="#0c0c0c" stroke-width="0.35" text-anchor="end" font-weight="normal" font-style="normal" >0.0</text>
<line x1="72.90" y1="520.98" x2="77.40" y2="520.98" stroke="#2a2a2a" stroke-width="1.2" />
<text x="69.2" y="526.3" font-size="18.8" fill="#0c0c0c" stroke="#0c0c0c" stroke-width="0.35" text-anchor="end" font-weight="normal" font-style="normal" >0.5</text>
<line x1="72.90" y1="455.45" x2="77.40" y2="455.45" stroke="#2a2a2a" stroke-width="1.2" />
<text x="69.2" y="460.8" font-size="18.8" fill="#0c0c0c" stroke="#0c0c0c" stroke-width="0.35" text-anchor="end" font-weight="normal" font-style="normal" >1.0</text>
<line x1="72.90" y1="389.92" x2="77.40" y2="389.92" stroke="#2a2a2a" stroke-width="1.2" />
<text x="69.2" y="395.2" font-size="18.8" fill="#0c0c0c" stroke="#0c0c0c" stroke-width="0.35" text-anchor="end" font-weight="normal" font-style="normal" >1.5</text>
<line x1="72.90" y1="324.40" x2="77.40" y2="324.40" stroke="#2a2a2a" stroke-width="1.2" />
<text x="69.2" y="329.7" font-size="18.8" fill="#0c0c0c" stroke="#0c0c0c" stroke-width="0.35" text-anchor="end" font-weight="normal" font-style="normal" >2.0</text>
<line x1="72.90" y1="553.74" x2="75.40" y2="553.74" stroke="#2a2a2a" stroke-width="1" />
<line x1="72.90" y1="488.21" x2="75.40" y2="488.21" stroke="#2a2a2a" stroke-width="1" />
<line x1="72.90" y1="422.69" x2="75.40" y2="422.69" stroke="#2a2a2a" stroke-width="1" />
<line x1="72.90" y1="357.16" x2="75.40" y2="357.16" stroke="#2a2a2a" stroke-width="1" />
<line x1="122.50" y1="586.50" x2="122.50" y2="582.00" stroke="#2a2a2a" stroke-width="1.2" />
<text x="122.5" y="606.0" font-size="18" fill="#0c0c0c" stroke="#0c0c0c" stroke-width="0.35" text-anchor="middle" font-weight="normal" font-style="normal" >0.05</text>
<line x1="185.05" y1="586.50" x2="185.05" y2="582.00" stroke="#2a2a2a" stroke-width="1.2" />
<text x="185.1" y="606.0" font-size="18" fill="#0c0c0c" stroke="#0c0c0c" stroke-width="0.35" text-anchor="middle" font-weight="normal" font-style="normal" >0.10</text>
<line x1="247.60" y1="586.50" x2="247.60" y2="582.00" stroke="#2a2a2a" stroke-width="1.2" />
<text x="247.6" y="606.0" font-size="18" fill="#0c0c0c" stroke="#0c0c0c" stroke-width="0.35" text-anchor="middle" font-weight="normal" font-style="normal" >0.15</text>
<line x1="310.15" y1="586.50" x2="310.15" y2="582.00" stroke="#2a2a2a" stroke-width="1.2" />
<text x="310.2" y="606.0" font-size="18" fill="#0c0c0c" stroke="#0c0c0c" stroke-width="0.35" text-anchor="middle" font-weight="normal" font-style="normal" >0.20</text>
<line x1="372.70" y1="586.50" x2="372.70" y2="582.00" stroke="#2a2a2a" stroke-width="1.2" />
<text x="372.7" y="606.0" font-size="18" fill="#0c0c0c" stroke="#0c0c0c" stroke-width="0.35" text-anchor="middle" font-weight="normal" font-style="normal" >0.25</text>
<text transform="translate(39.0,456.0) rotate(-90)" font-size="19" fill="#0c0c0c" stroke="#0c0c0c" stroke-width="0.35" text-anchor="middle" font-weight="normal" font-style="normal">Voltage (V)</text>
<text x="229.5" y="624.0" font-size="17.6" fill="#0c0c0c" stroke="#0c0c0c" stroke-width="0.35" text-anchor="middle" font-weight="normal" font-style="normal" >Capacity (mAh)</text>
<line x1="87.50" y1="339.70" x2="123.50" y2="339.70" stroke="#0a0aa8" stroke-width="2.0" />
<text x="127.3" y="345.4" font-size="17.45" fill="#0a0aa8" stroke="#0a0aa8" stroke-width="0.35" text-anchor="start" font-weight="normal" font-style="normal" >Li|LE@LLZT|C@Al</text>
<line x1="87.50" y1="361.70" x2="123.50" y2="361.70" stroke="#0b820b" stroke-width="2.0" />
<text x="127.3" y="367.6" font-size="17.45" fill="#0b820b" stroke="#0b820b" stroke-width="0.35" text-anchor="start" font-weight="normal" font-style="normal" >Li|LM@LLZT|C@Al</text>
<text x="108.5" y="414.5" font-size="21.1" fill="#be0a0a" stroke="#be0a0a" stroke-width="0.2" text-anchor="start" font-weight="bold" font-style="italic" >10<tspan font-size="13.5" dy="-8.5">th</tspan><tspan dy="8.5"> cycle</tspan></text>
<text x="118.5" y="503.5" font-size="16.6" fill="#0a0aa8" stroke="#0a0aa8" stroke-width="0.35" text-anchor="start" font-weight="normal" font-style="normal" >325 mV</text>
<text x="195.5" y="501.6" font-size="16.6" fill="#0b820b" stroke="#0b820b" stroke-width="0.35" text-anchor="start" font-weight="normal" font-style="normal" >70 mV</text>
<text x="296.8" y="479.0" font-size="18" fill="#0a0aa8" stroke="#0a0aa8" stroke-width="0.35" text-anchor="start" font-weight="normal" font-style="normal" >88.6%</text>
<text x="346.5" y="511.2" font-size="18" fill="#0b820b" stroke="#0b820b" stroke-width="0.35" text-anchor="start" font-weight="normal" font-style="normal" >96%</text>
<line x1="135.00" y1="538.00" x2="135.00" y2="524.30" stroke="#0a0aa8" stroke-width="1.7" />
<polygon points="135.0,516.3 138.2,525.3 131.8,525.3" fill="#0a0aa8"/>
<line x1="135.00" y1="538.00" x2="135.00" y2="552.70" stroke="#0a0aa8" stroke-width="1.7" />
<polygon points="135.0,560.7 131.8,551.7 138.2,551.7" fill="#0a0aa8"/>
<line x1="190.70" y1="488.50" x2="190.70" y2="526.00" stroke="#0b820b" stroke-width="1.7" />
<polygon points="190.7,534.0 187.5,525.0 193.9,525.0" fill="#0b820b"/>
<line x1="190.70" y1="570.50" x2="190.70" y2="552.30" stroke="#0b820b" stroke-width="1.7" />
<polygon points="190.7,544.3 193.9,553.3 187.5,553.3" fill="#0b820b"/>
<clipPath id="clipd"><rect x="490.9" y="307.5" width="310.0" height="272.20000000000005"/></clipPath>
<line x1="490.90" y1="519.16" x2="495.40" y2="519.16" stroke="#2a2a2a" stroke-width="1.2" />
<line x1="490.90" y1="458.62" x2="495.40" y2="458.62" stroke="#2a2a2a" stroke-width="1.2" />
<line x1="490.90" y1="398.08" x2="495.40" y2="398.08" stroke="#2a2a2a" stroke-width="1.2" />
<line x1="490.90" y1="337.54" x2="495.40" y2="337.54" stroke="#2a2a2a" stroke-width="1.2" />
<line x1="490.90" y1="549.43" x2="493.40" y2="549.43" stroke="#2a2a2a" stroke-width="1" />
<line x1="490.90" y1="488.89" x2="493.40" y2="488.89" stroke="#2a2a2a" stroke-width="1" />
<line x1="490.90" y1="428.35" x2="493.40" y2="428.35" stroke="#2a2a2a" stroke-width="1" />
<line x1="490.90" y1="367.81" x2="493.40" y2="367.81" stroke="#2a2a2a" stroke-width="1" />
<line x1="493.90" y1="579.70" x2="493.90" y2="575.20" stroke="#2a2a2a" stroke-width="1.2" />
<line x1="554.12" y1="579.70" x2="554.12" y2="575.20" stroke="#2a2a2a" stroke-width="1.2" />
<line x1="614.34" y1="579.70" x2="614.34" y2="575.20" stroke="#2a2a2a" stroke-width="1.2" />
<line x1="674.56" y1="579.70" x2="674.56" y2="575.20" stroke="#2a2a2a" stroke-width="1.2" />
<line x1="734.78" y1="579.70" x2="734.78" y2="575.20" stroke="#2a2a2a" stroke-width="1.2" />
<line x1="795.00" y1="579.70" x2="795.00" y2="575.20" stroke="#2a2a2a" stroke-width="1.2" />
<line x1="524.01" y1="579.70" x2="524.01" y2="577.20" stroke="#2a2a2a" stroke-width="1" />
<line x1="584.23" y1="579.70" x2="584.23" y2="577.20" stroke="#2a2a2a" stroke-width="1" />
<line x1="644.45" y1="579.70" x2="644.45" y2="577.20" stroke="#2a2a2a" stroke-width="1" />
<line x1="704.67" y1="579.70" x2="704.67" y2="577.20" stroke="#2a2a2a" stroke-width="1" />
<line x1="764.89" y1="579.70" x2="764.89" y2="577.20" stroke="#2a2a2a" stroke-width="1" />
<g clip-path="url(#clipd)">
<polyline points="496.9,517.6 509.0,554.0 524.0,558.5 539.1,559.7 554.1,559.7 569.2,559.4 584.2,558.8 599.3,558.2 614.3,557.6 629.4,559.1 644.5,558.5 659.5,558.8 674.6,557.3 689.6,557.3 704.7,556.4 719.7,557.0 734.8,554.6 749.8,554.6 764.9,556.4 779.9,552.8 795.0,555.2" fill="none" stroke="#0b820b" stroke-width="3.6"/>
<circle cx="496.91" cy="517.65" r="6.6" fill="url(#gball)"/>
<circle cx="508.95" cy="553.97" r="6.6" fill="url(#gball)"/>
<circle cx="524.01" cy="558.51" r="6.6" fill="url(#gball)"/>
<circle cx="539.06" cy="559.72" r="6.6" fill="url(#gball)"/>
<circle cx="554.12" cy="559.72" r="6.6" fill="url(#gball)"/>
<circle cx="569.17" cy="559.42" r="6.6" fill="url(#gball)"/>
<circle cx="584.23" cy="558.81" r="6.6" fill="url(#gball)"/>
<circle cx="599.28" cy="558.21" r="6.6" fill="url(#gball)"/>
<circle cx="614.34" cy="557.60" r="6.6" fill="url(#gball)"/>
<circle cx="629.39" cy="559.12" r="6.6" fill="url(#gball)"/>
<circle cx="644.45" cy="558.51" r="6.6" fill="url(#gball)"/>
<circle cx="659.50" cy="558.81" r="6.6" fill="url(#gball)"/>
<circle cx="674.56" cy="557.30" r="6.6" fill="url(#gball)"/>
<circle cx="689.62" cy="557.30" r="6.6" fill="url(#gball)"/>
<circle cx="704.67" cy="556.39" r="6.6" fill="url(#gball)"/>
<circle cx="719.73" cy="557.00" r="6.6" fill="url(#gball)"/>
<circle cx="734.78" cy="554.58" r="6.6" fill="url(#gball)"/>
<circle cx="749.84" cy="554.58" r="6.6" fill="url(#gball)"/>
<circle cx="764.89" cy="556.39" r="6.6" fill="url(#gball)"/>
<circle cx="779.94" cy="552.76" r="6.6" fill="url(#gball)"/>
<circle cx="795.00" cy="555.18" r="6.6" fill="url(#gball)"/>
<polyline points="496.9,417.2 509.0,463.8 524.0,471.6 539.1,463.2 554.1,446.5" fill="none" stroke="#0a0a96" stroke-width="3.6"/>
<circle cx="496.91" cy="417.15" r="6.6" fill="url(#bball)"/>
<circle cx="508.95" cy="463.77" r="6.6" fill="url(#bball)"/>
<circle cx="524.01" cy="471.64" r="6.6" fill="url(#bball)"/>
<circle cx="539.06" cy="463.16" r="6.6" fill="url(#bball)"/>
<circle cx="554.12" cy="446.51" r="6.6" fill="url(#bball)"/>
</g>
<rect x="490.90" y="307.50" width="310.00" height="272.20" fill="none" stroke="#2a2a2a" stroke-width="1.3"/>
<text x="487.4" y="584.5" font-size="18" fill="#0c0c0c" stroke="#0c0c0c" stroke-width="0.35" text-anchor="end" font-weight="normal" font-style="normal" >0.0</text>
<text x="487.4" y="524.0" font-size="18" fill="#0c0c0c" stroke="#0c0c0c" stroke-width="0.35" text-anchor="end" font-weight="normal" font-style="normal" >0.2</text>
<text x="487.4" y="463.4" font-size="18" fill="#0c0c0c" stroke="#0c0c0c" stroke-width="0.35" text-anchor="end" font-weight="normal" font-style="normal" >0.4</text>
<text x="487.4" y="402.9" font-size="18" fill="#0c0c0c" stroke="#0c0c0c" stroke-width="0.35" text-anchor="end" font-weight="normal" font-style="normal" >0.6</text>
<text x="487.4" y="342.3" font-size="18" fill="#0c0c0c" stroke="#0c0c0c" stroke-width="0.35" text-anchor="end" font-weight="normal" font-style="normal" >0.8</text>
<text x="493.9" y="599.2" font-size="18" fill="#0c0c0c" stroke="#0c0c0c" stroke-width="0.35" text-anchor="middle" font-weight="normal" font-style="normal" >0</text>
<text x="554.1" y="599.2" font-size="18" fill="#0c0c0c" stroke="#0c0c0c" stroke-width="0.35" text-anchor="middle" font-weight="normal" font-style="normal" >20</text>
<text x="614.3" y="599.2" font-size="18" fill="#0c0c0c" stroke="#0c0c0c" stroke-width="0.35" text-anchor="middle" font-weight="normal" font-style="normal" >40</text>
<text x="674.6" y="599.2" font-size="18" fill="#0c0c0c" stroke="#0c0c0c" stroke-width="0.35" text-anchor="middle" font-weight="normal" font-style="normal" >60</text>
<text x="734.8" y="599.2" font-size="18" fill="#0c0c0c" stroke="#0c0c0c" stroke-width="0.35" text-anchor="middle" font-weight="normal" font-style="normal" >80</text>
<text x="795.0" y="599.2" font-size="18" fill="#0c0c0c" stroke="#0c0c0c" stroke-width="0.35" text-anchor="middle" font-weight="normal" font-style="normal" >100</text>
<text transform="translate(456.0,441.6) rotate(-90)" font-size="18.6" fill="#0c0c0c" stroke="#0c0c0c" stroke-width="0.35" text-anchor="middle" font-weight="normal" font-style="normal">Hysteresis (V)</text>
<text x="652.0" y="615.5" font-size="18.4" fill="#0c0c0c" stroke="#0c0c0c" stroke-width="0.35" text-anchor="middle" font-weight="normal" font-style="normal" >Cycle number</text>
<line x1="570.00" y1="351.40" x2="608.50" y2="351.40" stroke="#0a0a96" stroke-width="3.6" stroke-linecap="round"/>
<circle cx="589.30" cy="351.50" r="9.5" fill="url(#bball)"/>
<text x="613.2" y="357.4" font-size="16.95" fill="#0a0a96" stroke="#0a0a96" stroke-width="0.35" text-anchor="start" font-weight="normal" font-style="normal" >Li|LE@LLZT|C@Al</text>
<line x1="570.00" y1="373.20" x2="608.50" y2="373.20" stroke="#0b820b" stroke-width="3.6" stroke-linecap="round"/>
<circle cx="589.30" cy="373.30" r="9.5" fill="url(#gball)"/>
<text x="613.2" y="379.4" font-size="16.95" fill="#0b820b" stroke="#0b820b" stroke-width="0.35" text-anchor="start" font-weight="normal" font-style="normal" >Li|LM@LLZT|C@Al</text>
<text x="577.5" y="490.7" font-size="19.3" fill="#8a1414" stroke="#8a1414" stroke-width="0.35" text-anchor="start" font-weight="normal" font-style="normal" >Short circuit</text>
<line x1="581.20" y1="468.80" x2="564.97" y2="457.20" stroke="#8a1414" stroke-width="1.3" />
<polygon points="560.5,454.0 567.3,455.7 564.3,459.9" fill="#8a1414"/>
<rect x="95.3" y="673.9" width="32" height="210.6" fill="url(#gbar)" stroke="#0a5c0a" stroke-width="0.8"/>
<text transform="translate(106.0,668.8) rotate(-38)" font-size="18.4" font-style="italic" fill="#0c0c0c" stroke="#0c0c0c" stroke-width="0.3">Li</text>
<rect x="173.7" y="673.9" width="32" height="197.4" fill="url(#gbar)" stroke="#0a5c0a" stroke-width="0.8"/>
<text transform="translate(170.7,673.1) rotate(-38)" font-size="17.2" font-style="italic" fill="#0c0c0c" stroke="#0c0c0c" stroke-width="0.3">Li<tspan font-size="10.5" dy="5.5" dx="1">2</tspan><tspan dy="-5.5" dx="1">Ga</tspan></text>
<rect x="252.1" y="673.9" width="32" height="144.8" fill="url(#gbar)" stroke="#0a5c0a" stroke-width="0.8"/>
<text transform="translate(250.5,673.3) rotate(-38)" font-size="17.2" font-style="italic" fill="#0c0c0c" stroke="#0c0c0c" stroke-width="0.3">Li<tspan font-size="10.5" dy="5.5" dx="1">3</tspan><tspan dy="-5.5" dx="1">Ga</tspan><tspan font-size="10.5" dy="7" dx="2.5">2</tspan></text>
<rect x="330.5" y="673.9" width="32" height="118.4" fill="url(#gbar)" stroke="#0a5c0a" stroke-width="0.8"/>
<text transform="translate(322.2,674.1) rotate(-31)" font-size="17.0" font-style="italic" fill="#0c0c0c" stroke="#0c0c0c" stroke-width="0.3">LiGaO<tspan font-size="10.5" dy="7.5" dx="2.5">2</tspan></text>
<rect x="72.90" y="673.90" width="313.10" height="262.90" fill="none" stroke="#2a2a2a" stroke-width="1.3"/>
<text x="68.1" y="679.3" font-size="18" fill="#0c0c0c" stroke="#0c0c0c" stroke-width="0.35" text-anchor="end" font-weight="normal" font-style="normal" >0</text>
<line x1="69.40" y1="673.90" x2="72.90" y2="673.90" stroke="#2a2a2a" stroke-width="1.2" />
<text x="68.1" y="745.1" font-size="18" fill="#0c0c0c" stroke="#0c0c0c" stroke-width="0.35" text-anchor="end" font-weight="normal" font-style="normal" >-5</text>
<line x1="69.40" y1="739.70" x2="72.90" y2="739.70" stroke="#2a2a2a" stroke-width="1.2" />
<text x="68.1" y="810.9" font-size="18" fill="#0c0c0c" stroke="#0c0c0c" stroke-width="0.35" text-anchor="end" font-weight="normal" font-style="normal" >-10</text>
<line x1="69.40" y1="805.50" x2="72.90" y2="805.50" stroke="#2a2a2a" stroke-width="1.2" />
<text x="68.1" y="876.7" font-size="18" fill="#0c0c0c" stroke="#0c0c0c" stroke-width="0.35" text-anchor="end" font-weight="normal" font-style="normal" >-15</text>
<line x1="69.40" y1="871.30" x2="72.90" y2="871.30" stroke="#2a2a2a" stroke-width="1.2" />
<text x="68.1" y="942.5" font-size="18" fill="#0c0c0c" stroke="#0c0c0c" stroke-width="0.35" text-anchor="end" font-weight="normal" font-style="normal" >-20</text>
<line x1="69.40" y1="937.10" x2="72.90" y2="937.10" stroke="#2a2a2a" stroke-width="1.2" />
<text transform="translate(40.7,817.0) rotate(-90)" font-size="18.4" fill="#0c0c0c" stroke="#0c0c0c" stroke-width="0.35" text-anchor="middle" font-weight="normal" font-style="normal">Minor Reaction Eneygy (meV/atom)</text>
<rect x="85" y="904" width="40.5" height="19" fill="url(#gbar)" stroke="#0a5c0a" stroke-width="0.8"/>
<text x="131.0" y="920.0" font-size="18.45" fill="#0c0c0c" stroke="#0c0c0c" stroke-width="0.35" text-anchor="start" font-weight="normal" font-style="normal" >Minor reaction energy values</text>
<polyline points="500.2,711.7 712.4,803.8 717.9,803.8 775.4,711.7" fill="none" stroke="#0a0a0a" stroke-width="2" stroke-linejoin="round"/>
<rect x="497.0" y="708.5" width="6.4" height="6.4" fill="#0a0a0a"/>
<rect x="709.2" y="800.6" width="6.4" height="6.4" fill="#0a0a0a"/>
<rect x="714.7" y="800.6" width="6.4" height="6.4" fill="#0a0a0a"/>
<rect x="772.2" y="708.5" width="6.4" height="6.4" fill="#0a0a0a"/>
<polyline points="500.2,711.7 632.6,813.1 646.6,810.1 775.4,711.7" fill="none" stroke="#ff8a0f" stroke-width="2" stroke-linejoin="round"/>
<circle cx="500.2" cy="711.7" r="3.6" fill="#ff8a0f"/>
<circle cx="632.6" cy="813.1" r="3.6" fill="#ff8a0f"/>
<circle cx="646.6" cy="810.1" r="3.6" fill="#ff8a0f"/>
<circle cx="775.4" cy="711.7" r="3.6" fill="#ff8a0f"/>
<polyline points="500.2,711.7 671.4,769.1 775.4,711.7" fill="none" stroke="#0b820b" stroke-width="2" stroke-linejoin="round"/>
<polygon points="500.2,707.1 504.8,714.7 495.6,714.7" fill="#0b820b"/>
<polygon points="671.4,764.5 676.0,772.1 666.8,772.1" fill="#0b820b"/>
<polygon points="775.4,707.1 780.0,714.7 770.8,714.7" fill="#0b820b"/>
<polyline points="500.2,711.7 765.5,731.8 775.4,711.7" fill="none" stroke="#7d0a93" stroke-width="2" stroke-linejoin="round"/>
<polygon points="500.2,707.1 504.3,711.7 500.2,716.3 496.1,711.7" fill="#7d0a93"/>
<polygon points="765.5,727.2 769.6,731.8 765.5,736.4 761.4,731.8" fill="#7d0a93"/>
<polygon points="775.4,707.1 779.5,711.7 775.4,716.3 771.3,711.7" fill="#7d0a93"/>
<rect x="489.60" y="676.60" width="303.10" height="261.80" fill="none" stroke="#2a2a2a" stroke-width="1.3"/>
<line x1="500.20" y1="676.60" x2="500.20" y2="679.80" stroke="#2a2a2a" stroke-width="1.2" />
<text x="504.6" y="674.8" font-size="20" fill="#0c0c0c" stroke="#0c0c0c" stroke-width="0.35" text-anchor="middle" font-weight="normal" font-style="normal" >0.0</text>
<line x1="555.24" y1="676.60" x2="555.24" y2="679.80" stroke="#2a2a2a" stroke-width="1.2" />
<text x="559.6" y="674.8" font-size="20" fill="#0c0c0c" stroke="#0c0c0c" stroke-width="0.35" text-anchor="middle" font-weight="normal" font-style="normal" >0.2</text>
<line x1="610.28" y1="676.60" x2="610.28" y2="679.80" stroke="#2a2a2a" stroke-width="1.2" />
<text x="614.7" y="674.8" font-size="20" fill="#0c0c0c" stroke="#0c0c0c" stroke-width="0.35" text-anchor="middle" font-weight="normal" font-style="normal" >0.4</text>
<line x1="665.32" y1="676.60" x2="665.32" y2="679.80" stroke="#2a2a2a" stroke-width="1.2" />
<text x="669.7" y="674.8" font-size="20" fill="#0c0c0c" stroke="#0c0c0c" stroke-width="0.35" text-anchor="middle" font-weight="normal" font-style="normal" >0.6</text>
<line x1="720.36" y1="676.60" x2="720.36" y2="679.80" stroke="#2a2a2a" stroke-width="1.2" />
<text x="724.8" y="674.8" font-size="20" fill="#0c0c0c" stroke="#0c0c0c" stroke-width="0.35" text-anchor="middle" font-weight="normal" font-style="normal" >0.8</text>
<line x1="775.40" y1="676.60" x2="775.40" y2="679.80" stroke="#2a2a2a" stroke-width="1.2" />
<text x="779.8" y="674.8" font-size="20" fill="#0c0c0c" stroke="#0c0c0c" stroke-width="0.35" text-anchor="middle" font-weight="normal" font-style="normal" >1.0</text>
<line x1="527.72" y1="676.60" x2="527.72" y2="678.40" stroke="#2a2a2a" stroke-width="1" />
<line x1="582.76" y1="676.60" x2="582.76" y2="678.40" stroke="#2a2a2a" stroke-width="1" />
<line x1="637.80" y1="676.60" x2="637.80" y2="678.40" stroke="#2a2a2a" stroke-width="1" />
<line x1="692.84" y1="676.60" x2="692.84" y2="678.40" stroke="#2a2a2a" stroke-width="1" />
<line x1="747.88" y1="676.60" x2="747.88" y2="678.40" stroke="#2a2a2a" stroke-width="1" />
<line x1="489.60" y1="711.70" x2="492.80" y2="711.70" stroke="#2a2a2a" stroke-width="1.2" />
<text x="486.4" y="717.4" font-size="20" fill="#0c0c0c" stroke="#0c0c0c" stroke-width="0.35" text-anchor="end" font-weight="normal" font-style="normal" >0</text>
<line x1="489.60" y1="755.30" x2="492.80" y2="755.30" stroke="#2a2a2a" stroke-width="1.2" />
<text x="486.4" y="761.0" font-size="20" fill="#0c0c0c" stroke="#0c0c0c" stroke-width="0.35" text-anchor="end" font-weight="normal" font-style="normal" >-5</text>
<line x1="489.60" y1="798.90" x2="492.80" y2="798.90" stroke="#2a2a2a" stroke-width="1.2" />
<text x="486.4" y="804.6" font-size="20" fill="#0c0c0c" stroke="#0c0c0c" stroke-width="0.35" text-anchor="end" font-weight="normal" font-style="normal" >-10</text>
<line x1="489.60" y1="842.50" x2="492.80" y2="842.50" stroke="#2a2a2a" stroke-width="1.2" />
<text x="486.4" y="848.2" font-size="20" fill="#0c0c0c" stroke="#0c0c0c" stroke-width="0.35" text-anchor="end" font-weight="normal" font-style="normal" >-15</text>
<line x1="489.60" y1="886.10" x2="492.80" y2="886.10" stroke="#2a2a2a" stroke-width="1.2" />
<text x="486.4" y="891.8" font-size="20" fill="#0c0c0c" stroke="#0c0c0c" stroke-width="0.35" text-anchor="end" font-weight="normal" font-style="normal" >-20</text>
<line x1="489.60" y1="929.70" x2="492.80" y2="929.70" stroke="#2a2a2a" stroke-width="1.2" />
<text x="486.4" y="935.4" font-size="20" fill="#0c0c0c" stroke="#0c0c0c" stroke-width="0.35" text-anchor="end" font-weight="normal" font-style="normal" >-25</text>
<line x1="489.60" y1="689.90" x2="491.40" y2="689.90" stroke="#2a2a2a" stroke-width="1" />
<line x1="489.60" y1="733.50" x2="491.40" y2="733.50" stroke="#2a2a2a" stroke-width="1" />
<line x1="489.60" y1="777.10" x2="491.40" y2="777.10" stroke="#2a2a2a" stroke-width="1" />
<line x1="489.60" y1="820.70" x2="491.40" y2="820.70" stroke="#2a2a2a" stroke-width="1" />
<line x1="489.60" y1="864.30" x2="491.40" y2="864.30" stroke="#2a2a2a" stroke-width="1" />
<line x1="489.60" y1="907.90" x2="491.40" y2="907.90" stroke="#2a2a2a" stroke-width="1" />
<text x="645.0" y="656.3" font-size="20.35" fill="#0c0c0c" stroke="#0c0c0c" stroke-width="0.35" text-anchor="middle" font-weight="normal" font-style="normal" >Molar Fraction of Garnet (x)</text>
<text transform="translate(453.1,643.2) rotate(-90)" font-size="20.2" fill="#0c0c0c" stroke="#0c0c0c" stroke-width="0.35" text-anchor="end">Mutual Reaction Energy (meV/atom)</text>
<line x1="509.30" y1="836.00" x2="549.10" y2="836.00" stroke="#0a0a0a" stroke-width="2" />
<rect x="525.4" y="831.9" width="8.2" height="8.2" fill="#0a0a0a"/>
<text x="554.0" y="840.9" font-size="17.4" fill="#0c0c0c" stroke="#0c0c0c" stroke-width="0.35" text-anchor="start" font-weight="normal" font-style="normal" >Li-Garnet</text>
<line x1="509.30" y1="857.30" x2="549.10" y2="857.30" stroke="#ff8a0f" stroke-width="2" />
<circle cx="529.5" cy="857.3" r="4.6" fill="#ff8a0f"/>
<text x="554.0" y="862.2" font-size="17.4" fill="#0c0c0c" stroke="#0c0c0c" stroke-width="0.35" text-anchor="start" font-weight="normal" font-style="normal" >Li<tspan font-size="11.5" dy="6">2</tspan><tspan dy="-6">Ga-Garnet</tspan></text>
<line x1="509.30" y1="885.10" x2="549.10" y2="885.10" stroke="#0b820b" stroke-width="2" />
<polygon points="529.5,879.2 535.4,888.9 523.6,888.9" fill="#0b820b"/>
<text x="554.0" y="890.0" font-size="17.4" fill="#0c0c0c" stroke="#0c0c0c" stroke-width="0.35" text-anchor="start" font-weight="normal" font-style="normal" >Li<tspan font-size="11.5" dy="6">3</tspan><tspan dy="-6">Ga</tspan><tspan font-size="11.5" dy="6">2</tspan><tspan dy="-6">-Garnet</tspan></text>
<line x1="509.30" y1="912.90" x2="549.10" y2="912.90" stroke="#7d0a93" stroke-width="2" />
<polygon points="529.5,907.0 534.7,912.9 529.5,918.8 524.3,912.9" fill="#7d0a93"/>
<text x="554.0" y="917.8" font-size="17.4" fill="#0c0c0c" stroke="#0c0c0c" stroke-width="0.35" text-anchor="start" font-weight="normal" font-style="normal" >LiGaO<tspan font-size="11.5" dy="6">2</tspan><tspan dy="-6">-Garnet</tspan></text>
<text x="6.0" y="30.6" font-size="23.2" fill="#0a0a0a" stroke="#0a0a0a" stroke-width="0.2" text-anchor="start" font-weight="bold" font-style="normal" >(a)</text>
<text x="406.1" y="18.5" font-size="23.2" fill="#0a0a0a" stroke="#0a0a0a" stroke-width="0.2" text-anchor="start" font-weight="bold" font-style="normal" >(b)</text>
<text x="11.0" y="301.5" font-size="23.2" fill="#0a0a0a" stroke="#0a0a0a" stroke-width="0.2" text-anchor="start" font-weight="bold" font-style="normal" >(c)</text>
<text x="429.0" y="304.0" font-size="23.2" fill="#0a0a0a" stroke="#0a0a0a" stroke-width="0.2" text-anchor="start" font-weight="bold" font-style="normal" >(d)</text>
<text x="6.0" y="625.6" font-size="23.2" fill="#0a0a0a" stroke="#0a0a0a" stroke-width="0.2" text-anchor="start" font-weight="bold" font-style="normal" >(e)</text>
<text x="440.0" y="625.8" font-size="23.2" fill="#0a0a0a" stroke="#0a0a0a" stroke-width="0.2" text-anchor="start" font-weight="bold" font-style="normal" >(f)</text>
</svg>
</body></html>
